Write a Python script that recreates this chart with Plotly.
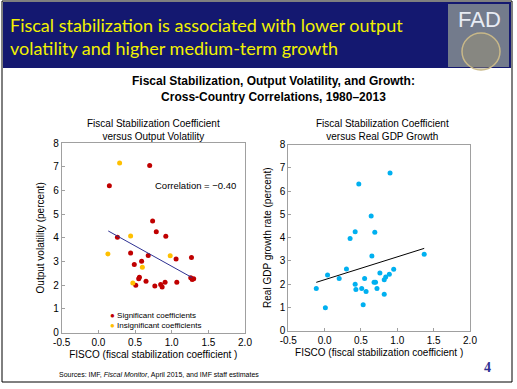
import plotly.graph_objects as go

W, H = 517, 389

# ---------------- data ----------------
sig_x = [0.15, 0.70, 0.26, 0.74, 0.79, 0.92, 0.44, 0.68, 1.06, 1.27, 0.59, 0.49,
         0.56, 0.55, 0.65, 0.91, 1.07, 0.51, 0.77, 0.85, 0.87, 1.26, 1.28, 1.30]
sig_y = [6.20, 7.05, 4.03, 4.71, 4.26, 4.07, 3.36, 3.26, 3.11, 3.17, 3.01, 2.88,
         2.34, 2.28, 2.17, 2.13, 2.13, 2.00, 1.97, 2.03, 1.93, 2.32, 2.24, 2.27]
insig_x = [0.29, 0.44, 0.13, 0.98, 0.60, 0.47]
insig_y = [7.16, 4.08, 3.32, 3.24, 2.76, 2.10]
trend1_x = [0.135, 1.28]
trend1_y = [4.29, 2.32]

gdp_x = [0.90, 0.47, 0.64, 0.42, 0.69, 0.35, -0.115, 0.01, 0.04, 0.20, 0.30, 0.65,
         0.42, 0.43, 0.51, 0.55, 0.57, 0.53, 0.68, 0.70, 0.72, 0.76, 0.82, 0.82,
         0.84, 0.89, 0.95, 1.37]
gdp_y = [6.78, 6.31, 4.93, 4.26, 4.23, 3.97, 1.82, 0.99, 2.40, 2.24, 2.65, 3.21,
         2.00, 1.77, 1.82, 2.25, 1.69, 1.12, 2.08, 2.08, 1.82, 2.48, 1.57, 2.19,
         2.31, 2.43, 2.64, 3.29]
trend2_x = [-0.115, 1.37]
trend2_y = [2.08, 3.54]

x_ticks = [-0.5, 0.0, 0.5, 1.0, 1.5, 2.0]
x_ticktext = ["-0.5", "0.0", "0.5", "1.0", "1.5", "2.0"]
y_ticks = [0, 1, 2, 3, 4, 5, 6, 7, 8]

RED = "#C00000"
YEL = "#FFC000"
CYAN = "#00B0F0"
NAVY = "#141870"

def px(x):
    return x / W

def py(y):
    return 1 - y / H

fig = go.Figure()

MS = 5
fig.add_trace(go.Scatter(x=sig_x, y=sig_y, mode="markers", name="Significant coefficients",
                         marker=dict(color=RED, size=MS, symbol="circle"),
                         xaxis="x", yaxis="y", showlegend=False))
fig.add_trace(go.Scatter(x=insig_x, y=insig_y, mode="markers", name="Insignificant coefficients",
                         marker=dict(color=YEL, size=MS, symbol="circle"),
                         xaxis="x", yaxis="y", showlegend=False))
fig.add_trace(go.Scatter(x=trend1_x, y=trend1_y, mode="lines",
                         line=dict(color="#2E3192", width=1),
                         xaxis="x", yaxis="y", showlegend=False))
fig.add_trace(go.Scatter(x=gdp_x, y=gdp_y, mode="markers",
                         marker=dict(color=CYAN, size=MS, symbol="circle"),
                         xaxis="x2", yaxis="y2", showlegend=False))
fig.add_trace(go.Scatter(x=trend2_x, y=trend2_y, mode="lines",
                         line=dict(color="black", width=1),
                         xaxis="x2", yaxis="y2", showlegend=False))

FONT = "Liberation Sans, Arial, sans-serif"
axis_common = dict(showline=True, mirror=True, linecolor="#A0A0A0", linewidth=1,
                   ticks="inside", ticklen=3, tickcolor="#A0A0A0",
                   showgrid=False, zeroline=False, automargin=False,
                   tickfont=dict(family=FONT, size=10, color="black"))

fig.update_layout(
    width=W, height=H, margin=dict(l=0, r=0, t=0, b=0, autoexpand=False),
    paper_bgcolor="white", plot_bgcolor="white", showlegend=False,
    xaxis=dict(domain=[px(61.7), px(245)], range=[-0.5, 2.0], tickvals=x_ticks,
               ticktext=x_ticktext, anchor="y",
               title=dict(text="FISCO (fiscal stabilization coefficient )",
                          font=dict(family=FONT, size=10, color="black"), standoff=4),
               **axis_common),
    yaxis=dict(domain=[py(332.7), py(143)], range=[0, 8], tickvals=y_ticks, anchor="x",
               title=dict(text="Output volatility (percent)",
                          font=dict(family=FONT, size=10, color="black"), standoff=6),
               **axis_common),
    xaxis2=dict(domain=[px(288.3), px(470)], range=[-0.5, 2.0], tickvals=x_ticks,
                ticktext=x_ticktext, anchor="y2",
                title=dict(text="FISCO (fiscal stabilization coefficient )",
                           font=dict(family=FONT, size=10, color="black"), standoff=4),
                **axis_common),
    yaxis2=dict(domain=[py(330.7), py(144.7)], range=[0, 8], tickvals=y_ticks, anchor="x2",
                title=dict(text="Real GDP growth rate (percent)",
                           font=dict(family=FONT, size=10, color="black"), standoff=6),
                **axis_common),
)

shapes = [
    # slide frame
    dict(type="rect", xref="paper", yref="paper", x0=px(2), x1=px(512), y0=py(382), y1=py(1),
         line=dict(color="black", width=1), fillcolor="rgba(0,0,0,0)"),
    # header band
    dict(type="rect", xref="paper", yref="paper", x0=px(3), x1=px(511), y0=py(68), y1=py(2),
         line=dict(width=0), fillcolor=NAVY, layer="below"),
    # logo box
    dict(type="rect", xref="paper", yref="paper", x0=px(448), x1=px(509), y0=py(67), y1=py(4),
         line=dict(width=0), fillcolor="#737B8C", layer="below"),
    dict(type="circle", xref="paper", yref="paper", x0=px(462), x1=px(500), y0=py(70), y1=py(33),
         line=dict(color="#C8B888", width=1.5), fillcolor="rgba(160,150,115,0.45)"),
]
fig.update_layout(shapes=shapes)


def note(text, x, y, size, family=FONT, color="black", xanchor="center", yanchor="middle",
         xref="paper", yref="paper", align="center"):
    return dict(text=text, x=x, y=y, xref=xref, yref=yref, xanchor=xanchor, yanchor=yanchor,
                showarrow=False, align=align,
                font=dict(family=family, size=size, color=color))


ann = [
    note("Fiscal stabilization is associated with lower output<br>volatility and higher medium-term growth",
         px(8), py(36), 18, family="Lato, Calibri, sans-serif", color="#F2F200",
         xanchor="left", align="left"),
    note("FAD", px(479), py(20), 22, family="Liberation Sans, Arial", color="#E8ECF4"),
    note("<b>Fiscal Stabilization, Output Volatility, and Growth:</b><br><b>Cross-Country Correlations, 1980\u20132013</b>",
         px(273), py(89), 12),
    note("Fiscal Stabilization Coefficient<br>versus Output Volatility", px(153), py(130.5), 10),
    note("Fiscal Stabilization Coefficient<br>versus Real GDP Growth", px(382), py(130.5), 10),
    note("Correlation = \u22120.40", 0.75, 6.2, 9.5, xanchor="left", xref="x", yref="y"),
    note("<span style='color:%s'>\u25CF</span> Significant coefficients" % RED,
         px(108), py(315), 8, xanchor="left"),
    note("<span style='color:%s'>\u25CF</span> Insignificant coefficients" % YEL,
         px(108), py(325.5), 8, xanchor="left"),
    note("Sources: IMF, <i>Fiscal Monitor</i>, April 2015, and IMF staff estimates",
         px(57), py(375), 7, xanchor="left"),
    note("<b>4</b>", px(487), py(367), 14, family="Liberation Serif, Times New Roman, serif",
         color="#2E3192"),
]
fig.update_layout(annotations=ann)

fig.write_html("out.html", config={"displayModeBar": False},
               post_script="document.body.style.margin='0';document.body.style.overflow='hidden';")
